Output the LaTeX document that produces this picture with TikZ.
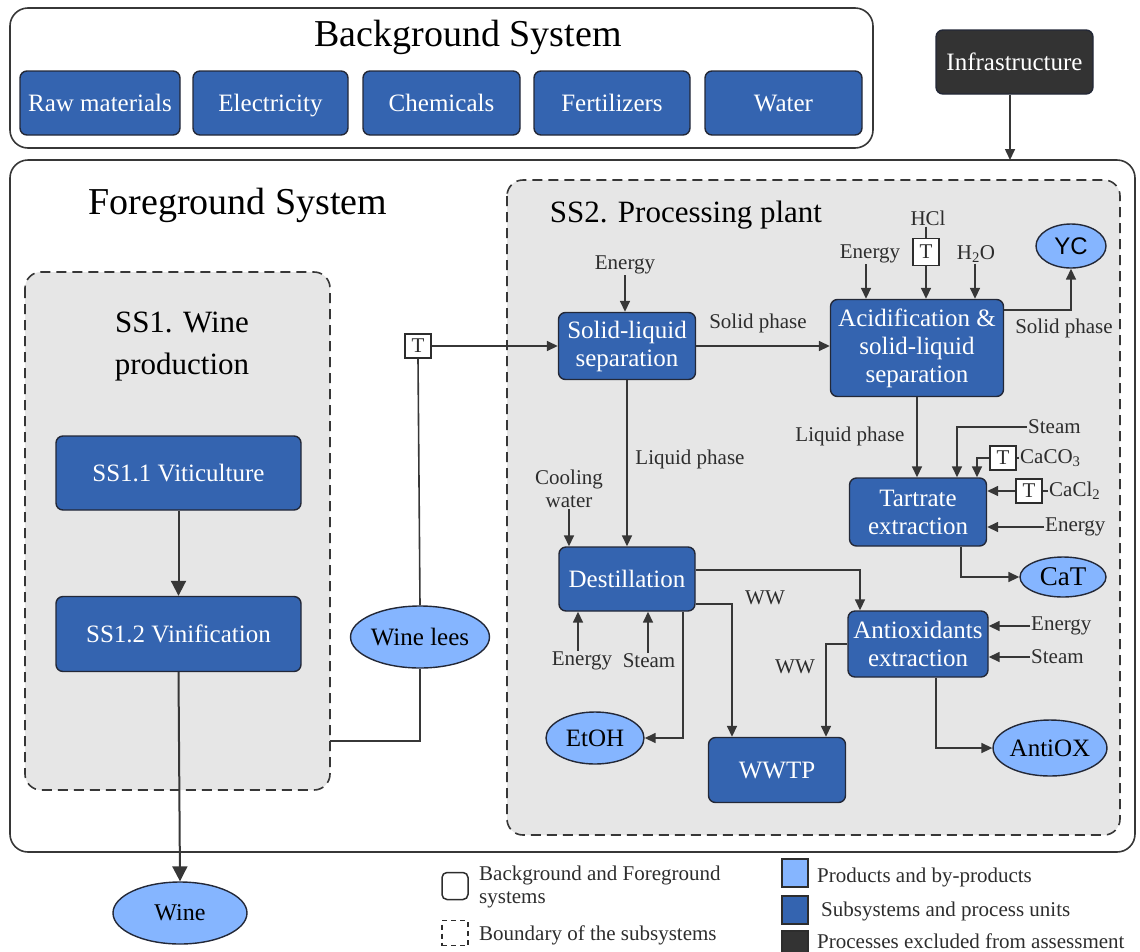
\documentclass[tikz,border=0pt]{standalone}
\usepackage{fontspec}
\setmainfont{Liberation Serif}
\newfontfamily\tnr{Liberation Serif}
\newfontfamily\sansf{Liberation Sans}
\usetikzlibrary{arrows.meta,shapes.geometric}
\definecolor{myblue}{RGB}{52,100,176}
\definecolor{lightblue}{RGB}{133,181,255}
\definecolor{darkbox}{RGB}{51,51,51}
\definecolor{greyfill}{RGB}{230,230,230}
\definecolor{linec}{RGB}{55,55,55}
\definecolor{labc}{RGB}{45,45,45}
\definecolor{boxedge}{RGB}{35,40,55}
\newcommand\fbig{\tnr\fontsize{38}{42}\selectfont}
\newcommand\fsst{\tnr\fontsize{31}{42}\selectfont}
\newcommand\fnode{\tnr\fontsize{25}{28}\selectfont}
\newcommand\flab{\tnr\fontsize{21}{23}\selectfont}
\begin{document}
\begin{tikzpicture}[x=1pt,y=-1pt,
  box/.style={draw=boxedge, fill=myblue, rounded corners=7pt, line width=1.4pt, text=white, font=\fnode, align=center, inner sep=0pt},
  oneline/.style={text height=17pt, text depth=0pt},
  prod/.style={ellipse, draw=boxedge, fill=lightblue, line width=1.4pt, font=\fnode, inner sep=0pt},
  lab/.style={font=\flab, text=labc, inner sep=1pt, align=center},
  tbx/.style={draw=labc, fill=white, line width=1.2pt, minimum width=26pt, minimum height=24pt, inner sep=0pt, font=\flab, text=labc},
  arr/.style={draw=linec, line width=1.6pt, -{Triangle[length=11pt,width=10pt]}},
  ln/.style={draw=linec, line width=1.6pt},
  bigarr/.style={draw=linec, line width=2pt, -{Triangle[length=15pt,width=15pt]}},
  sysframe/.style={draw=linec, line width=1.6pt, rounded corners=18pt},
  subframe/.style={draw=linec, line width=1.6pt, dashed, dash pattern=on 10pt off 6pt, fill=greyfill, rounded corners=16pt},
  legsq/.style={draw=labc, line width=1.5pt, minimum width=26pt, minimum height=28pt, inner sep=0pt}
]
\useasboundingbox (0,0) rectangle (1140,951);
\clip (0,0) rectangle (1140,951);

% ---------- Background system ----------
\draw[sysframe] (10,8) rectangle (873,148);
\node[font=\fbig] (bgt) at (468,37) {Background System};
\node[box, oneline, minimum width=160pt, minimum height=64pt] (raw) at (100,103) {Raw materials};
\node[box, oneline, minimum width=155pt, minimum height=64pt] (elec) at (270.5,103) {Electricity};
\node[box, oneline, minimum width=157pt, minimum height=64pt] (chem) at (441.5,103) {Chemicals};
\node[box, oneline, minimum width=156pt, minimum height=64pt] (fert) at (612,103) {Fertilizers};
\node[box, oneline, minimum width=157pt, minimum height=64pt] (water) at (783.5,103) {Water};

% ---------- Infrastructure ----------
\node[box, oneline, fill=darkbox, minimum width=157pt, minimum height=64pt] (infra) at (1014.5,62) {Infrastructure};
\coordinate (fgtop) at (1010,160);

% ---------- Foreground system ----------
\draw[sysframe] (10,160) rectangle (1135,852);
\draw[arr] (infra.south -| fgtop) -- (fgtop);
\node[font=\fbig] (fgt) at (238,205) {Foreground System};

% ---------- SS1 ----------
\draw[subframe] (25,272) rectangle (330,790);
\node[font=\fsst, align=center] (ss1t) at (182,347) {SS1. Wine\\production};
\node[box, oneline, minimum width=245pt, minimum height=74pt] (vit) at (178.5,473) {SS1.1 Viticulture};
\node[box, oneline, minimum width=245pt, minimum height=75pt] (vin) at (178.5,634) {SS1.2 Vinification};
\draw[bigarr] (vit.south) -- (vin.north);
\coordinate (ss1r) at (330,741);

% ---------- SS2 ----------
\draw[subframe] (507,180) rectangle (1120,835);
\node[font=\fsst] (ss2t) at (686,215) {SS2. Processing plant};

% wine lees and transport
\node[prod, minimum width=134pt, minimum height=62pt] (lees) at (420,637) {Wine lees};
\node[tbx] (t1) at (418,346) {T};
\draw[ln] (ss1r) -| (lees.south);
\draw[ln] (lees.north) -- (t1.south);

% solid-liquid separation
\node[box, minimum width=137pt, minimum height=67pt] (sls) at (627,346) {Solid-liquid\\separation};
\draw[arr] (t1.east) -- (sls.west);
\node[lab] (e1) at (625,265) {Energy};
\draw[arr] (e1.south) -- (e1.south |- sls.north);

% acidification
\node[box, minimum width=173pt, minimum height=97pt] (acid) at (917,348) {Acidification \&\\solid-liquid\\separation};
\draw[arr] (sls.east) -- (sls.east -| acid.west);
\node[lab] (sp1) at (758,323) {Solid phase};
\node[lab] (e2) at (870,254) {Energy};
\draw[arr] (e2.south -| 866,0) -- (acid.north -| 866,0);
\node[lab] (hcl) at (928,218) {HCl};
\node[tbx, minimum height=27pt] (t2) at (926,252) {T};
\draw[ln] (hcl.south -| t2.north) -- (t2.north);
\draw[arr] (t2.south) -- (t2.south |- acid.north);
\node[lab] (h2o) at (976,254) {H\textsubscript{2}O};
\draw[arr] (h2o.south -| 975,0) -- (acid.north -| 975,0);

\node[prod, minimum width=70pt, minimum height=44pt, font=\sansf\fontsize{24}{26}\selectfont] (yc) at (1071,246) {YC};
\draw[arr] (acid.east |- 0,310) -| (yc.south);
\node[lab] (sp2) at (1064,328) {Solid phase};

% tartrate extraction
\node[box, minimum width=137pt, minimum height=68pt] (tart) at (918,512) {Tartrate\\extraction};
\draw[arr] (acid.south) -- (acid.south |- tart.north);
\node[lab] (lp2) at (850,436) {Liquid phase};
\node[lab, anchor=west] (st1) at (1027,427) {Steam};
\draw[arr] (st1.west) -| (tart.north -| 957,0);
\node[tbx] (t3) at (1003,458) {T};
\node[lab, anchor=west] (caco) at (1019,458) {CaCO\textsubscript{3}};
\draw[ln] (caco.west) -- (t3.east);
\draw[arr] (t3.west) -| (tart.north -| 977,0);
\node[tbx] (t4) at (1029,491) {T};
\node[lab, anchor=west] (cacl) at (1048,491) {CaCl\textsubscript{2}};
\draw[ln] (cacl.west) -- (t4.east);
\draw[arr] (t4.west) -- (tart.east |- t4.west);
\node[lab, anchor=west] (e3) at (1044,527) {Energy};
\draw[arr] (e3.west) -- (tart.east |- e3.west);
\node[prod, minimum width=86pt, minimum height=40pt, font=\tnr\fontsize{27}{29}\selectfont] (cat) at (1063,577) {CaT};
\draw[arr] (tart.south -| 961,0) |- (cat.west);

% destillation
\node[box, oneline, minimum width=136pt, minimum height=64pt] (dest) at (627,579) {Destillation};
\draw[arr] (sls.south) -- (sls.south |- dest.north);
\node[lab] (lp1) at (690,459) {Liquid phase};
\node[lab] (cw) at (569,489) {Cooling\\water};
\draw[arr] (cw.south) -- (cw.south |- dest.north);
\node[lab] (e4) at (582,661) {Energy};
\node[lab] (st4) at (649,661) {Steam};
\draw[arr] (e4.north -| 578,0) -- (dest.south -| 578,0);
\draw[arr] (st4.north -| 648,0) -- (dest.south -| 648,0);

\node[prod, minimum width=98pt, minimum height=52pt] (etoh) at (595,738) {EtOH};
\node[box, oneline, minimum width=137pt, minimum height=65pt] (wwtp) at (777,770) {WWTP};
\node[box, minimum width=140pt, minimum height=66pt] (antiox) at (918,644) {Antioxidants\\extraction};
\draw[arr] (dest.east |- 0,570) -| (antiox.north -| 860,0);
\node[lab] (ww1) at (765,598) {WW};
\draw[arr] (dest.east |- 0,604) -| (wwtp.north -| 732,0);
\draw[arr] (dest.south -| 683,0) |- (etoh.east);

\node[lab, anchor=west] (e5) at (1030,626) {Energy};
\draw[arr] (e5.west) -- (antiox.east |- e5.west);
\node[lab, anchor=west] (st5) at (1030,657) {Steam};
\draw[arr] (st5.west) -- (antiox.east |- st5.west);
\node[lab] (ww2) at (795,667) {WW};
\draw[arr] (antiox.west) -| (wwtp.north -| 826,0);
\node[prod, minimum width=112pt, minimum height=56pt] (aox) at (1050,748) {AntiOX};
\draw[arr] (antiox.south -| 936,0) |- (aox.west);

% wine
\node[prod, minimum width=134pt, minimum height=62pt, font=\tnr\fontsize{24}{26}\selectfont] (wine) at (180,913) {Wine};
\draw[bigarr] (vin.south) -- (wine.north);

% ---------- Legend ----------
\node[legsq, rounded corners=5pt, fill=white, minimum height=27pt] (lg1) at (455,886) {};
\node[lab, anchor=west, align=left] (lt1) at (478,887) {Background and Foreground\\systems};
\node[legsq, dashed, dash pattern=on 5pt off 4pt, fill=white, minimum height=25pt] (lg2) at (455,933) {};
\node[lab, anchor=west] (lt2) at (478,935) {Boundary of the subsystems};
\node[legsq, fill=lightblue] (lg3) at (795,873) {};
\node[lab, anchor=west] (lt3) at (816,877) {Products and by-products};
\node[legsq, fill=myblue] (lg4) at (795,910) {};
\node[lab, anchor=west] (lt4) at (820,911) {Subsystems and process units};
\node[legsq, fill=darkbox, minimum height=24pt] (lg5) at (795,943) {};
\node[lab, anchor=west] (lt5) at (816,941) {Processes excluded from assessment};
\end{tikzpicture}
\end{document}
